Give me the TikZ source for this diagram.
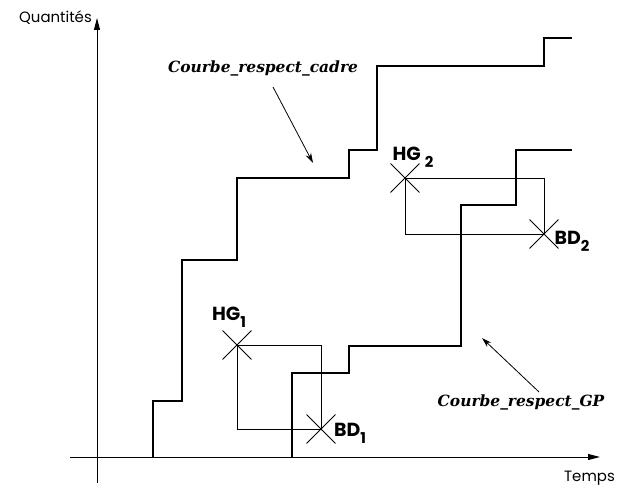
\documentclass[tikz,border=0pt]{standalone}
\usepackage{fontspec}
\setmainfont{Poppins}
\newfontfamily\nomfont{DejaVu Serif}
\usetikzlibrary{arrows.meta,positioning,shapes.misc}
\newcommand{\indice}[1]{\raisebox{-0.38em}{\fontsize{15}{15}\selectfont#1}}

\begin{document}
\begin{tikzpicture}[
  x=1bp,y=-1bp,
  axe/.style={-{Triangle[length=12bp,width=6bp]},line width=1bp},
  courbe/.style={line width=2.9bp,line join=miter},
  cadre/.style={line width=0.9bp},
  croix/.style={draw,cross out,minimum size=28bp,inner sep=0pt,line width=0.9bp},
  nom/.style={font=\nomfont\bfseries\itshape\fontsize{15.5}{17}\selectfont,inner sep=0pt},
  pt/.style={font=\bfseries\fontsize{19}{20}\selectfont,inner sep=0pt},
  axelab/.style={font=\fontsize{15}{17}\selectfont,inner sep=0pt}
  ,arr/.style={-{Stealth[length=10bp,width=6bp]},line width=0.8bp}
]
\useasboundingbox (0,0) rectangle (617,489);
% axes
\coordinate (ybas) at (97,483);
\coordinate (yhaut) at (97,18);
\coordinate (xgauche) at (70,457);
\coordinate (xdroite) at (600,457);
\draw[axe] (ybas) -- (yhaut);
\draw[axe] (xgauche) -- (xdroite);
\node[axelab,anchor=east] (quant) at (92,18) {Quantités};
\node[axelab,anchor=east] (temps) at (615,478) {Temps};

% courbes en escalier
\draw[courbe] (153,457) |- (182,401) |- (237,260) |- (349,178) |- (377,150)
  |- (544,66) |- (572,38);
\draw[courbe] (292,457) |- (349,373) |- (461,346) |- (516,205) |- (572,150);

% points HG / BD
\node[croix] (hg1) at (237,345) {};
\node[croix] (bd1) at (321,429) {};
\node[croix] (hg2) at (405,178) {};
\node[croix] (bd2) at (544,234) {};
\draw[cadre] (hg1.center) rectangle (bd1.center);
\draw[cadre] (hg2.center) rectangle (bd2.center);
\node[pt] (lhg1) at (229,317) {HG\indice{1}};
\node[pt] (lbd1) at (350,433) {BD\indice{1}};
\node[pt] (lhg2) at (413,157) {HG \indice{2}};
\node[pt] (lbd2) at (572,241) {BD\indice{2}};

% noms des courbes
\node[nom] (ncadre) at (263,68) {Courbe\_respect\_cadre};
\coordinate (dcadre) at (273,87);
\coordinate (pcadre) at (313,163);
\draw[arr] (dcadre) -- (pcadre);
\node[nom] (ngp) at (521,402) {Courbe\_respect\_GP};
\coordinate (dgp) at (539,392);
\coordinate (pgp) at (482,338);
\draw[arr] (dgp) -- (pgp);
\end{tikzpicture}
\end{document}
